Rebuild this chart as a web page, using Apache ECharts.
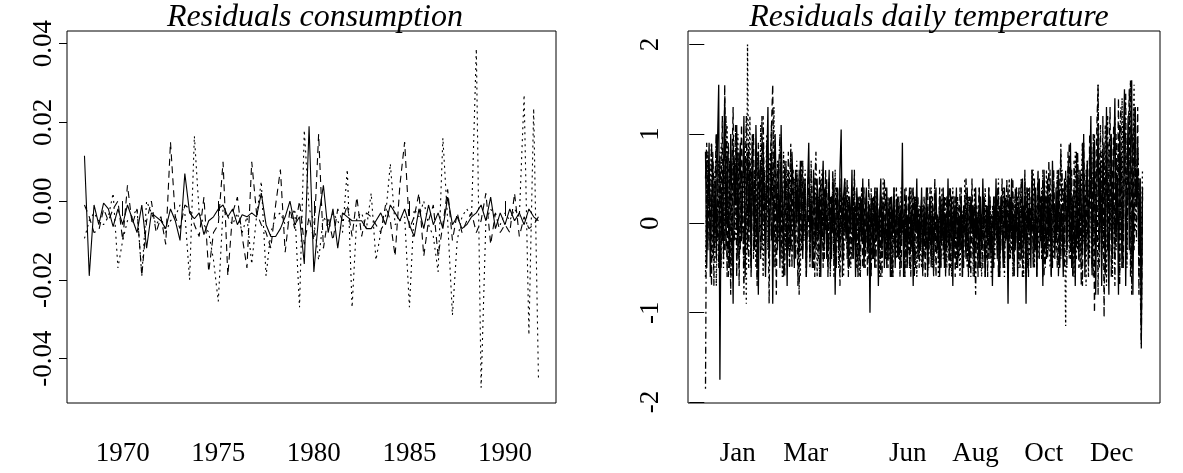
<!DOCTYPE html>
<html><head><meta charset="utf-8">
<script src="https://cdn.jsdelivr.net/npm/echarts@6/dist/echarts.min.js"></script>
<style>html,body{margin:0;padding:0;background:#fff}#c{width:1183px;height:473px}</style>
</head><body><div id="c"></div>
<script>
// ---------- Left panel: residuals consumption (quarterly, 1968 Q1 .. 1991 Q4) ----------
const consStartYear = 1968;
const consSolid = [
0.0115,-0.019,-0.001,-0.006,-0.0005,-0.002,-0.0065,-0.002,-0.006,-0.001,
-0.0045,-0.008,-0.001,-0.012,-0.003,-0.004,-0.005,-0.007,-0.002,-0.005,
-0.010,0.007,-0.003,-0.0045,-0.003,-0.0085,-0.005,-0.004,-0.002,-0.001,
-0.004,-0.002,-0.006,-0.0035,-0.004,-0.003,-0.004,0.002,-0.006,-0.009,
-0.009,-0.007,-0.004,0.000,-0.006,-0.004,-0.016,0.019,-0.018,-0.004,
0.004,-0.008,-0.002,-0.012,-0.003,-0.004,-0.005,-0.005,-0.005,-0.007,
-0.007,-0.005,-0.003,-0.006,-0.001,-0.003,-0.005,-0.002,-0.006,-0.009,
-0.002,-0.007,-0.001,-0.006,-0.003,-0.007,0.001,-0.006,-0.004,-0.007,
-0.006,-0.004,-0.003,-0.001,-0.005,0.001,-0.007,-0.003,-0.006,-0.002,
-0.005,-0.003,-0.006,-0.002,-0.004,-0.005];
const consDashed = [
-0.001,-0.004,-0.008,-0.0075,-0.002,-0.005,-0.002,0.000,-0.010,0.004,
-0.006,-0.002,-0.019,-0.005,0.000,-0.008,-0.004,-0.011,0.015,-0.004,
-0.007,-0.001,-0.002,-0.006,-0.009,0.001,-0.018,-0.008,-0.006,0.010,
-0.019,-0.003,0.001,-0.009,-0.017,0.010,-0.003,-0.006,-0.008,-0.012,
-0.001,0.008,-0.013,-0.002,-0.007,0.000,-0.011,-0.004,-0.010,0.017,
-0.012,-0.004,-0.010,-0.002,-0.005,-0.001,-0.009,0.001,-0.009,-0.003,
-0.004,-0.006,-0.008,-0.001,-0.005,-0.014,0.004,0.015,-0.007,-0.004,
0.002,-0.014,-0.005,-0.001,-0.014,-0.006,0.003,-0.010,-0.003,-0.008,
-0.005,-0.003,-0.008,-0.005,0.002,-0.011,-0.003,-0.008,-0.006,-0.008,
0.002,-0.009,-0.004,-0.007,-0.006,-0.004];
const consDotted = [
-0.0095,-0.005,-0.003,-0.005,-0.006,-0.004,0.002,-0.017,-0.010,-0.005,
-0.004,-0.002,-0.019,0.000,-0.003,-0.006,-0.004,-0.008,-0.005,-0.004,
-0.001,-0.003,-0.020,0.0165,-0.003,-0.006,-0.008,-0.015,-0.0255,-0.002,
-0.004,-0.006,-0.003,-0.008,-0.004,-0.016,-0.004,0.005,-0.019,-0.008,
-0.004,-0.003,-0.006,-0.005,-0.002,-0.027,0.018,-0.002,-0.005,-0.015,
-0.004,-0.006,-0.003,-0.005,-0.008,0.008,-0.027,-0.004,-0.003,-0.007,
0.002,-0.015,-0.008,-0.004,0.0095,-0.006,-0.005,-0.004,-0.027,-0.002,
-0.004,0.000,-0.006,-0.009,-0.018,0.016,-0.005,-0.029,-0.010,-0.004,
-0.002,-0.004,0.0387,-0.0474,-0.005,-0.002,-0.004,-0.006,-0.003,-0.005,
-0.002,-0.004,0.027,-0.034,0.0235,-0.045];
const consYearTicks = [1970, 1975, 1980, 1985, 1990];
const consValueTicks = [-0.04, -0.02, 0, 0.02, 0.04];

// ---------- Right panel: residuals daily temperature (365 days) ----------
const tempSolid = [
0.8,-0.5,0.3,0.9,-0.6,0.2,0.7,-0.3,0.5,-0.4,0.9,1.55,-1.75,0.4,-0.2,0.6,1.4,-0.3,0.8,0.1,
-0.5,1.0,0.3,-0.9,0.7,0.2,1.1,-0.4,0.5,0.9,-0.2,0.4,1.2,-0.6,0.3,0.8,-0.1,0.6,-0.5,0.9,
0.2,-0.3,1.1,0.4,-0.8,0.5,0.7,-0.2,0.9,0.1,-0.6,0.6,1.3,-0.4,0.2,0.8,-0.9,0.5,1.0,0.3,
-0.3,0.7,-0.5,1.1,0.2,-0.4,0.6,0.3,-0.7,0.5,0.1,-0.3,0.8,0.4,-0.5,0.6,0.0,0.5,-0.3,0.7,
0.2,-0.4,0.5,0.1,-0.6,0.4,0.9,-0.2,0.3,-0.5,0.6,0.2,-0.3,0.5,-0.1,0.4,-0.6,0.3,0.7,-0.2,
0.4,-0.4,0.2,0.6,-0.5,0.3,-0.1,0.5,-0.8,0.2,0.4,-0.3,0.6,1.05,-0.4,0.3,0.5,-0.2,0.2,-0.5,
0.3,-0.1,0.6,-0.4,0.2,-0.6,0.4,0.1,-0.4,0.3,-0.2,0.5,-0.5,0.1,0.4,-0.3,0.2,-1.0,0.3,0.0,
-0.4,0.4,-0.2,0.3,-0.7,0.1,0.5,-0.3,0.2,-0.5,0.0,0.4,-0.4,0.2,-0.6,0.3,-0.1,0.4,-0.5,0.1,
0.3,-0.4,0.2,-0.2,0.9,-0.6,0.1,0.3,-0.5,0.0,0.4,-0.3,0.2,-0.7,0.3,-0.1,0.5,-0.4,0.1,-0.3,
0.4,-0.5,0.2,-0.2,0.4,-0.6,0.0,0.3,-0.4,0.2,-0.5,0.1,0.4,-0.3,0.0,-0.6,0.3,-0.2,0.4,-0.5,
0.1,-0.3,0.5,-0.4,0.0,0.3,-0.7,0.2,-0.1,0.4,-0.5,0.1,-0.3,0.3,-0.6,0.2,0.0,-0.4,0.4,-0.2,
-0.5,0.3,-0.1,0.2,-0.6,0.4,-0.2,0.1,-0.5,0.3,-0.3,0.5,-0.1,-0.6,0.2,-0.2,0.4,-0.4,0.0,-0.7,
0.3,-0.2,0.5,-0.4,0.1,-0.6,0.3,0.0,-0.5,0.4,-0.2,0.2,-0.9,0.3,-0.1,0.5,-0.4,0.1,-0.3,0.4,
-0.6,0.2,0.0,-0.4,0.5,-0.2,0.3,-0.9,0.4,-0.1,0.2,-0.5,0.6,0.0,-0.3,0.4,-0.6,0.2,0.5,-0.2,
0.3,-0.7,0.6,0.0,-0.4,0.5,-0.2,0.3,-0.6,0.7,0.1,-0.4,0.4,-0.1,0.6,-0.5,0.2,0.0,-0.6,0.5,
0.2,-0.3,0.6,-0.2,0.9,-0.5,0.3,0.1,-0.7,0.8,0.0,-0.4,0.6,0.2,-0.3,1.0,-0.6,0.3,0.7,-0.4,
0.5,1.2,-0.5,0.2,0.9,-0.8,0.4,1.1,-0.3,0.6,-0.7,0.8,0.3,-0.5,1.3,0.0,-0.8,0.7,1.0,-0.4,
0.6,1.4,-0.2,0.5,-0.8,1.1,0.3,-0.5,0.9,1.5,-0.7,0.4,1.2,-0.3,0.8,1.6,-0.8,0.5,1.3,0.2,
0.6,-0.3,0.5,-1.4,0.4];
const tempDashed = [
0.5,0.9,-0.3,0.6,0.1,-0.7,0.8,0.4,-0.2,1.0,0.3,-0.5,0.7,0.2,1.2,-0.4,1.55,0.3,-0.6,0.9,
0.4,-0.8,0.6,1.3,-0.2,0.5,0.0,0.8,-0.7,0.4,1.1,0.1,-0.5,0.7,0.3,-0.3,0.9,0.2,-0.6,0.6,
1.0,-0.2,0.4,-0.7,0.8,0.3,-0.4,1.2,0.0,0.6,-0.5,0.9,0.2,-0.3,0.7,1.1,1.55,-0.2,0.5,-0.8,
0.6,0.2,-0.4,0.9,0.1,-0.6,0.7,0.3,-0.3,0.8,-0.5,0.4,0.0,0.6,-0.4,0.5,0.2,-0.7,0.6,0.1,
-0.3,0.7,-0.1,0.4,-0.5,0.3,0.6,-0.4,0.2,-0.2,0.5,-0.6,0.3,0.1,-0.4,0.6,-0.2,0.3,-0.5,0.4,
-0.1,0.5,-0.6,0.2,0.3,-0.4,0.6,-0.2,0.1,-0.5,0.4,0.0,-0.3,0.5,-0.6,0.2,-0.1,0.4,-0.4,0.3,
-0.5,0.1,0.3,-0.4,0.6,-0.2,0.0,-0.6,0.3,-0.1,0.2,-0.5,0.4,-0.3,0.1,-0.6,0.5,-0.2,0.2,-0.4,
0.3,-0.5,0.1,0.4,-0.3,0.2,-0.6,0.3,-0.1,0.5,-0.4,0.0,-0.5,0.3,-0.2,0.1,-0.6,0.4,-0.3,0.2,
-0.4,0.3,-0.1,-0.5,0.2,0.0,-0.6,0.4,-0.2,0.3,-0.5,0.1,-0.3,0.4,-0.6,0.2,-0.1,0.3,-0.5,0.0,
0.3,-0.4,0.1,-0.6,0.2,0.4,-0.3,0.0,-0.5,0.3,-0.2,0.5,-0.6,0.1,-0.1,0.3,-0.5,0.2,-0.3,0.1,
-0.6,0.3,-0.2,0.4,-0.5,0.1,-0.1,0.3,-0.6,0.2,0.0,-0.4,0.4,-0.3,0.1,-0.5,0.3,-0.2,0.0,-0.6,
0.3,-0.1,0.5,-0.4,0.2,-0.3,0.0,-0.6,0.4,-0.2,0.1,-0.5,0.3,-0.1,0.2,-0.6,0.4,-0.3,0.1,-0.2,
-0.5,0.3,-0.1,0.4,-0.6,0.2,-0.3,0.5,0.0,-0.5,0.3,-0.2,0.4,-0.4,0.1,-0.1,0.5,-0.6,0.2,0.0,
-0.3,0.4,-0.5,0.2,0.1,-0.4,0.6,-0.2,0.0,-0.6,0.4,-0.1,0.3,-0.5,0.5,-0.3,0.1,0.6,-0.4,0.2,
-0.2,0.5,-0.6,0.3,0.1,-0.4,0.7,-0.2,0.2,-0.5,0.6,0.0,-0.3,0.5,-0.6,0.4,0.8,-0.2,0.3,-0.5,
0.6,-0.3,0.4,0.9,-0.4,0.2,-0.6,0.7,0.3,-0.2,0.8,-0.5,0.5,0.1,-0.7,0.9,0.2,-0.3,0.6,-0.4,
1.0,0.2,-0.6,0.8,-1.0,0.5,1.1,1.55,-0.2,0.7,-0.5,1.2,-1.05,0.4,0.9,-0.3,0.6,1.3,-0.6,0.5,
1.1,-0.4,0.7,0.2,1.4,-0.7,0.8,0.3,-0.5,1.2,0.4,-0.2,0.9,1.5,-0.6,0.6,1.0,-0.3,0.7,0.2,
1.3,-0.8,0.5,-1.1,0.3];
const tempDotted = [
-0.6,0.4,0.8,-0.2,0.5,0.9,-0.4,0.3,0.6,-0.7,0.2,0.7,-0.1,0.9,0.4,-0.5,0.6,0.1,1.1,-0.3,
0.5,0.2,-0.6,0.8,0.4,-0.2,0.7,1.0,-0.5,0.3,0.6,-0.1,0.9,0.2,-0.9,2.0,0.3,1.2,-0.4,0.7,
0.1,0.5,-0.5,0.8,0.3,-0.1,1.1,0.4,-0.6,0.6,0.2,1.0,-0.3,0.5,0.8,-0.2,0.6,1.3,-0.5,0.4,
0.7,-0.2,0.3,0.5,-0.6,0.8,0.1,-0.3,0.6,0.2,-0.5,0.9,0.3,-0.1,0.5,-0.4,0.7,0.0,0.4,-0.6,
0.5,0.2,-0.2,0.6,-0.4,0.1,0.4,-0.5,0.7,0.0,-0.3,0.5,0.2,-0.6,0.3,0.1,-0.2,0.6,-0.4,0.2,
0.4,-0.3,0.0,0.5,-0.6,0.3,0.1,-0.4,0.6,-0.2,0.2,-0.5,0.4,-0.1,0.3,-0.6,0.5,0.0,-0.3,0.4,
0.1,-0.5,0.3,-0.2,0.5,-0.4,0.0,0.3,-0.6,0.2,-0.1,0.4,-0.5,0.1,0.3,-0.3,0.0,-0.6,0.4,-0.2,
0.2,-0.5,0.4,-0.1,0.1,-0.6,0.3,-0.3,0.5,-0.2,0.0,-0.5,0.3,-0.4,0.2,-0.1,-0.6,0.3,0.1,-0.4,
0.2,-0.2,-0.5,0.4,-0.1,0.1,-0.6,0.3,-0.3,0.0,-0.5,0.4,-0.2,0.1,-0.4,0.3,-0.6,0.0,0.2,-0.3,
-0.5,0.2,0.0,-0.4,0.3,-0.6,0.1,-0.2,0.4,-0.5,0.0,0.3,-0.3,0.1,-0.6,0.2,-0.1,0.4,-0.4,0.0,
0.3,-0.5,0.1,-0.2,0.2,-0.6,0.4,-0.3,0.0,-0.5,0.3,-0.1,-0.6,0.2,0.1,-0.4,0.5,-0.2,-0.5,0.3,
0.0,-0.3,0.2,-0.6,0.4,-0.1,0.1,-0.5,0.3,-0.3,-0.6,0.2,0.0,0.4,-0.4,0.1,-0.2,0.3,-0.6,0.2,
0.0,-0.4,0.3,-0.2,0.5,-0.5,0.1,-0.1,0.4,-0.6,0.2,0.0,-0.3,0.5,-0.4,0.2,-0.6,0.3,-0.1,0.4,
0.1,-0.5,0.4,-0.2,0.0,-0.6,0.5,-0.3,0.2,0.4,-0.4,0.1,-0.1,0.6,-0.5,0.3,0.0,-0.4,0.5,-0.2,
0.4,-0.6,0.2,0.0,0.6,-0.3,0.3,-0.5,0.1,0.5,-0.4,0.2,-0.2,0.6,0.0,-0.5,0.9,-0.3,0.4,0.1,
-1.15,0.5,0.2,-0.4,0.7,-0.1,0.3,-0.6,0.8,0.2,-0.3,0.6,-0.5,0.4,0.9,-0.2,0.3,-0.7,0.7,0.1,
-0.4,0.9,0.3,-0.6,1.0,-0.2,0.6,1.55,-0.5,0.4,0.8,-0.3,0.2,1.1,-0.7,0.5,0.9,-0.1,0.4,-0.6,
0.8,1.2,-0.3,0.5,0.9,-0.6,0.3,1.4,-0.2,0.7,1.0,-0.5,0.6,1.2,0.2,-0.4,0.9,1.55,-0.1,0.5,
0.8,-0.6,0.4,-0.2,0.6];
const tempDotDash = [
-1.85,0.8,0.2,0.6,-0.3,0.9,0.4,-0.7,0.5,1.0,-0.2,0.3,0.8,-0.5,0.6,0.2,-0.3,1.2,0.5,-0.6,
0.7,0.1,-0.4,0.9,0.3,1.1,-0.6,0.4,0.8,-0.3,0.6,0.2,-0.8,0.5,1.2,0.0,-0.5,0.7,0.3,1.0,
-0.4,0.6,0.2,-0.6,0.9,0.1,0.5,-0.3,1.2,0.4,-0.2,0.7,0.3,-0.9,0.6,1.1,0.2,-0.5,0.8,0.3,
-0.2,0.6,1.0,-0.4,0.4,0.1,-0.6,0.7,0.2,-0.3,0.5,0.8,-0.5,0.3,0.0,-0.4,0.6,0.2,-0.8,0.5,
0.7,-0.3,0.2,0.5,-0.6,0.3,0.0,-0.4,0.6,0.1,-0.5,0.4,0.8,-0.2,0.2,-0.6,0.5,-0.1,0.3,-0.4,
0.6,0.0,-0.5,0.3,0.1,-0.3,0.5,-0.6,0.2,0.4,-0.2,0.0,-0.7,0.4,0.2,-0.4,0.3,-0.1,0.5,-0.6,
0.2,0.0,-0.4,0.4,-0.1,0.2,-0.5,0.3,0.0,-0.6,0.4,-0.2,0.1,-0.5,0.3,0.0,-0.4,0.2,-0.6,0.3,
-0.1,0.2,-0.5,0.4,0.0,-0.3,0.3,-0.6,0.1,-0.2,0.4,-0.5,0.2,-0.1,0.3,-0.6,0.1,0.0,-0.4,0.4,
-0.3,0.1,-0.6,0.3,0.0,-0.2,0.4,-0.5,0.1,-0.3,0.2,-0.6,0.4,0.0,-0.2,-0.5,0.3,0.1,-0.4,0.2,
-0.1,-0.6,0.3,0.0,-0.3,0.2,-0.5,0.4,-0.2,0.1,-0.6,0.3,-0.1,0.0,-0.4,0.4,-0.5,0.1,-0.2,0.3,
-0.5,0.0,0.2,-0.6,0.4,-0.2,0.1,-0.4,0.3,-0.5,0.0,0.2,-0.3,0.4,-0.6,0.1,-0.1,0.5,-0.4,0.0,
0.2,-0.6,0.3,-0.3,0.0,-0.8,0.2,-0.1,0.4,-0.5,0.1,-0.2,0.3,-0.6,0.0,0.2,-0.4,0.3,-0.3,0.1,
-0.5,0.2,0.0,-0.3,0.4,-0.6,0.1,0.3,-0.4,0.2,-0.1,0.5,-0.5,0.0,0.3,-0.3,0.2,-0.6,0.4,-0.1,
0.3,-0.4,0.1,0.5,-0.6,0.2,-0.2,0.4,-0.5,0.1,0.3,-0.3,0.6,-0.4,0.0,0.2,-0.6,0.5,-0.1,0.3,
-0.4,0.6,0.0,-0.5,0.3,0.1,-0.3,0.6,-0.6,0.2,0.4,-0.2,0.1,-0.5,0.5,0.0,-0.4,0.6,-0.2,0.3,
0.5,-0.5,0.8,0.1,-0.3,0.6,-0.6,0.4,0.2,-0.4,0.7,-0.1,0.3,-0.7,0.9,0.2,-0.4,0.6,0.1,-0.6,
0.8,0.3,-0.5,1.0,0.2,-0.3,0.7,-0.8,0.5,1.1,-0.2,0.4,0.9,-0.6,0.6,1.2,-0.4,0.3,0.8,-0.2,
0.5,-0.7,1.0,0.4,-0.3,0.9,1.3,-0.5,0.2,0.8,1.45,-0.4,0.6,1.1,1.6,-0.8,0.4,1.3,0.6,-0.2,
0.9,0.4,-0.6,-1.35,0.4];
// month tick positions (in day units of the plotted axis) and their labels ('' = label not drawn)
const monthTickDays = [27.8, 56.1, 84.4, 112.8, 141.1, 169.4, 197.7, 226.0, 254.4, 282.7, 311.0, 339.3];
const monthLabels   = ['Jan', '', 'Mar', '', '', 'Jun', '', 'Aug', '', 'Oct', '', 'Dec'];
const tempValueTicks = [-2, -1, 0, 1, 2];

// ---------- chart ----------
const FONT = '"Liberation Serif", "DejaVu Serif", serif';
const toPairsQ = arr => arr.map((v, i) => [consStartYear + i / 4, v]);
const toPairsD = arr => arr.map((v, i) => [i + 1, v]);
const labelDays = monthTickDays.filter((d, i) => monthLabels[i] !== '');

function lineSeries(data, xi, type, w) {
  return {
    type: 'line', xAxisIndex: xi, yAxisIndex: xi, data: data,
    showSymbol: false, symbol: 'none', silent: true, animation: false,
    lineStyle: { color: '#000', width: w, type: type }
  };
}

const axisText = { color: '#000', fontFamily: FONT, fontSize: 27 };
const chart = echarts.init(document.getElementById('c'), null, { renderer: 'canvas' });
chart.setOption({
  animation: false,
  backgroundColor: '#fff',
  title: [
    { text: 'Residuals consumption', left: 310, top: -3, textAlign: 'center',
      textStyle: { fontFamily: FONT, fontStyle: 'italic', fontWeight: 'normal', fontSize: 32, color: '#000' } },
    { text: 'Residuals daily temperature', left: 924, top: -3, textAlign: 'center',
      textStyle: { fontFamily: FONT, fontStyle: 'italic', fontWeight: 'normal', fontSize: 32, color: '#000' } }
  ],
  grid: [
    { left: 67, top: 31, width: 489, height: 372, show: true, borderColor: '#000', borderWidth: 1, backgroundColor: 'transparent' },
    { left: 688, top: 31, width: 472, height: 372, show: true, borderColor: '#000', borderWidth: 1, backgroundColor: 'transparent' }
  ],
  xAxis: [
    { type: 'value', gridIndex: 0, min: 1967.086, max: 1992.668,
      axisLine: { show: false }, splitLine: { show: false },
      axisTick: { show: true, length: 15, inside: false, customValues: consYearTicks, lineStyle: { color: '#000' } },
      axisLabel: Object.assign({ customValues: consYearTicks, margin: 37, formatter: v => String(Math.round(v)) }, axisText) },
    { type: 'value', gridIndex: 1, min: -13.58, max: 379.58,
      axisLine: { show: false }, splitLine: { show: false },
      axisTick: { show: true, length: 15, inside: false, customValues: monthTickDays, lineStyle: { color: '#000' } },
      axisLabel: Object.assign({ customValues: labelDays, margin: 37,
        formatter: v => { let k = 0, best = 1e9; monthTickDays.forEach((d, i) => { if (Math.abs(d - v) < best) { best = Math.abs(d - v); k = i; } }); return monthLabels[k]; } }, axisText) }
  ],
  yAxis: [
    { type: 'value', gridIndex: 0, min: -0.0513, max: 0.0432,
      axisLine: { show: false }, splitLine: { show: false },
      axisTick: { show: true, length: 8, inside: false, customValues: consValueTicks, lineStyle: { color: '#000' } },
      axisLabel: Object.assign({ customValues: consValueTicks, rotate: 90, margin: 10, formatter: v => (Math.abs(v) < 1e-9 ? '0.00' : v.toFixed(2)) }, axisText) },
    { type: 'value', gridIndex: 1, min: -2.01, max: 2.151,
      axisLine: { show: false }, splitLine: { show: false },
      axisTick: { show: true, length: 15, inside: false, customValues: tempValueTicks, lineStyle: { color: '#000' } },
      axisLabel: Object.assign({ customValues: tempValueTicks, rotate: 90, margin: 24, formatter: v => String(Math.round(v)) }, axisText) }
  ],
  series: [
    lineSeries(toPairsQ(consDotted), 0, [2, 4], 1.1),
    lineSeries(toPairsQ(consDashed), 0, [7, 5], 1.1),
    lineSeries(toPairsQ(consSolid), 0, 'solid', 1.1),
    lineSeries(toPairsD(tempDotted), 1, [2, 3], 1.3),
    lineSeries(toPairsD(tempDotDash), 1, [2, 3, 7, 3], 1.3),
    lineSeries(toPairsD(tempDashed), 1, [7, 4], 1.3),
    lineSeries(toPairsD(tempSolid), 1, 'solid', 1.3)
  ]
});
</script>
</body></html>
